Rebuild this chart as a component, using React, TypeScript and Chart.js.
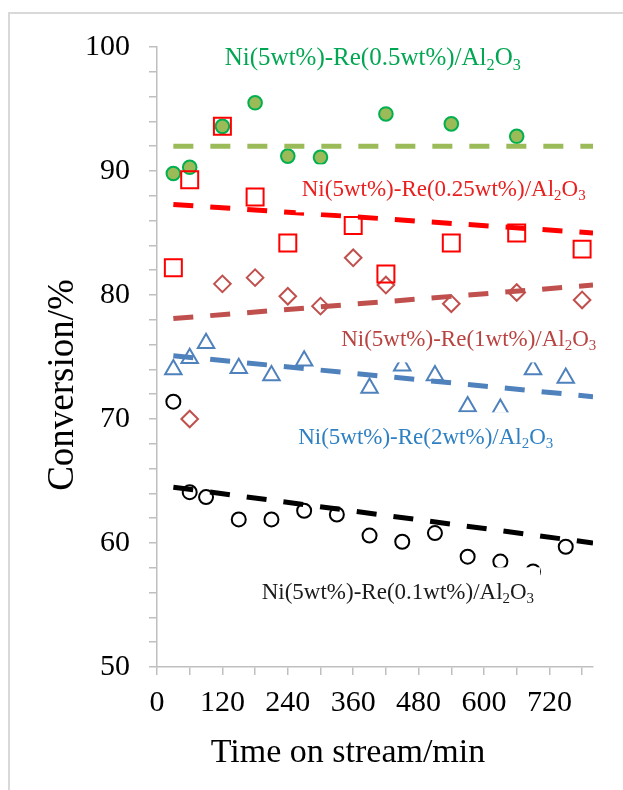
import React, { useEffect, useRef } from 'react';
import { Chart, registerables } from 'chart.js';

Chart.register(...registerables);

const FONT = '"Liberation Serif", "Times New Roman", serif';

// Axis tick labels
const xTickLabels = [0, 120, 240, 360, 480, 600, 720];
const yTickLabels = [50, 60, 70, 80, 90, 100];

// Series names
const seriesNames = [
  'Ni(5wt%)-Re(0.5wt%)/Al2O3',
  'Ni(5wt%)-Re(0.25wt%)/Al2O3',
  'Ni(5wt%)-Re(1wt%)/Al2O3',
  'Ni(5wt%)-Re(2wt%)/Al2O3',
  'Ni(5wt%)-Re(0.1wt%)/Al2O3',
];

// Ni(5wt%)-Re(0.5wt%)/Al2O3
const t05 = [30, 60, 120, 180, 240, 300, 420, 540, 660];
const v05 = [89.8, 90.3, 93.6, 95.5, 91.2, 91.1, 94.6, 93.8, 92.8];

// Ni(5wt%)-Re(0.25wt%)/Al2O3
const t025 = [30, 60, 120, 180, 240, 360, 420, 540, 660, 780];
const v025 = [82.2, 89.3, 93.6, 87.9, 84.2, 85.6, 81.7, 84.2, 85.0, 83.7];

// Ni(5wt%)-Re(1wt%)/Al2O3
const t1 = [60, 120, 180, 240, 300, 360, 420, 540, 660, 780];
const v1 = [70.0, 80.9, 81.4, 79.9, 79.1, 83.0, 80.8, 79.3, 80.2, 79.6];

// Ni(5wt%)-Re(2wt%)/Al2O3
const t2 = [30, 60, 90, 150, 210, 270, 390, 450, 510, 570, 630, 690, 750];
const v2 = [74.0, 74.9, 76.1, 74.1, 73.5, 74.7, 72.5, 74.3, 73.5, 71.0, 70.8, 74.0, 73.3];

// Ni(5wt%)-Re(0.1wt%)/Al2O3
const t01 = [30, 60, 90, 150, 210, 270, 330, 390, 450, 510, 570, 630, 690, 750];
const v01 = [71.4, 64.1, 63.7, 61.9, 61.9, 62.6, 62.3, 60.6, 60.1, 60.8, 58.9, 58.5, 57.7, 59.7];

// Linear trend lines (start / end)
const trendT = [30, 800];
const trend05 = [92.0, 92.0];
const trend025 = [87.3, 85.0];
const trend1 = [78.1, 80.8];
const trend2 = [75.1, 71.8];
const trend01 = [64.5, 60.0];

// Series label anchors (data coordinates: time, conversion)
const labelT = [396, 526, 572, 493, 442];
const labelV = [99.2, 88.6, 76.5, 68.6, 56.1];
const labelSize = [25, 23, 23, 23, 23];
const labelColor = ['#00A651', '#E8201F', '#B84340', '#2F80C3', '#1a1a1a'];

const pts = (t: number[], v: number[]) => t.map((x, i) => ({ x, y: v[i] }));

function drawRich(ctx: CanvasRenderingContext2D, cx: number, cy: number, text: string, size: number, color: string) {
  const idx = text.indexOf('Al2O3');
  const segs: [string, boolean][] = [
    [text.slice(0, idx) + 'Al', false],
    ['2', true],
    ['O', false],
    ['3', true],
  ];
  const subSize = size * 0.65;
  let total = 0;
  const widths = segs.map(([s, sub]) => {
    ctx.font = `${sub ? subSize : size}px ${FONT}`;
    const w = ctx.measureText(s).width;
    total += w;
    return w;
  });
  const boxH = 48;
  ctx.fillStyle = '#ffffff';
  ctx.fillRect(cx - total / 2 - 6, cy - boxH / 2, total + 12, boxH);
  let x = cx - total / 2;
  ctx.fillStyle = color;
  ctx.textAlign = 'left';
  ctx.textBaseline = 'alphabetic';
  const base = cy + size * 0.33;
  segs.forEach(([s, sub], i) => {
    ctx.font = `${sub ? subSize : size}px ${FONT}`;
    ctx.fillText(s, x, sub ? base + size * 0.18 : base);
    x += widths[i];
  });
}

const labelsPlugin = {
  id: 'seriesLabels',
  afterDatasetsDraw(chart: any) {
    const { ctx, scales } = chart;
    ctx.save();
    seriesNames.forEach((name, i) => {
      const cx = scales.x.getPixelForValue(labelT[i]);
      const cy = scales.y.getPixelForValue(labelV[i]);
      drawRich(ctx, cx, cy, name, labelSize[i], labelColor[i]);
    });
    ctx.restore();
  },
  afterDraw(chart: any) {
    const { ctx } = chart;
    ctx.save();
    ctx.fillStyle = '#000';
    ctx.font = `34px ${FONT}`;
    ctx.textAlign = 'center';
    ctx.textBaseline = 'alphabetic';
    ctx.fillText('Time on stream/min', 348, 762);
    ctx.translate(73, 385);
    ctx.rotate(-Math.PI / 2);
    ctx.font = `37px ${FONT}`;
    ctx.fillText('Conversion/%', 0, 0);
    ctx.restore();
  },
};

export default function App() {
  const ref = useRef<HTMLCanvasElement>(null);
  useEffect(() => {
    if (!ref.current) return;
    const trend = (v: number[], color: string) => ({
      type: 'line' as const,
      data: pts(trendT, v),
      borderColor: color,
      borderWidth: 5,
      borderDash: [20, 17],
      pointRadius: 0,
      fill: false,
      order: 0,
      clip: 0,
    });
    const marker = (t: number[], v: number[], style: string, r: number, border: string, bg: string, order: number) => ({
      type: 'scatter' as const,
      data: pts(t, v),
      pointStyle: style,
      pointRadius: r,
      pointBorderColor: border,
      pointBackgroundColor: bg,
      pointBorderWidth: 2,
      showLine: false,
      order,
    });
    const chart = new Chart(ref.current, {
      type: 'scatter',
      data: {
        datasets: [
          trend(trend05, '#9BBB59'),
          trend(trend025, '#FF0000'),
          trend(trend1, '#C0504D'),
          trend(trend2, '#4F81BD'),
          trend(trend01, '#000000'),
          marker(t025, v025, 'rect', 12, '#FF0000', 'rgba(255,255,255,0)', 1),
          marker(t05, v05, 'circle', 6.8, '#00B050', '#9BBB59', 2),
          marker(t1, v1, 'rectRot', 8.3, '#C0504D', 'rgba(255,255,255,0)', 3),
          marker(t2, v2, 'triangle', 9.5, '#4F81BD', 'rgba(255,255,255,0)', 3),
          marker(t01, v01, 'circle', 7, '#000000', 'rgba(255,255,255,0)', 3),
        ] as any,
      },
      options: {
        animation: false,
        responsive: false,
        events: [],
        layout: { padding: { left: 0, top: 47, right: 30, bottom: 0 } },
        plugins: { legend: { display: false }, tooltip: { enabled: false } },
        scales: {
          x: {
            type: 'linear',
            min: 0,
            max: 800,
            afterFit: (s: any) => { s.height = 123; },
            ticks: {
              stepSize: 60,
              autoSkip: false,
              includeBounds: false,
              maxRotation: 0,
              padding: 10,
              color: '#000',
              font: { family: FONT, size: 30 },
              callback: (v: any) => (xTickLabels.includes(Number(v)) ? String(v) : ''),
            },
            grid: { drawOnChartArea: false, tickLength: 8, color: '#BFBFBF', lineWidth: 1.5 },
            border: { color: '#BFBFBF', width: 1.5 },
          },
          y: {
            type: 'linear',
            min: 50,
            max: 100,
            afterFit: (s: any) => { s.width = 157; },
            ticks: {
              stepSize: 2,
              autoSkip: false,
              padding: 19,
              color: '#000',
              font: { family: FONT, size: 30 },
              callback: (v: any) => (yTickLabels.includes(Number(v)) ? String(v) : ''),
            },
            grid: { drawOnChartArea: false, tickLength: 8, color: '#BFBFBF', lineWidth: 1.5 },
            border: { color: '#BFBFBF', width: 1.5 },
          },
        },
      },
      plugins: [labelsPlugin],
    });
    return () => chart.destroy();
  }, []);
  return (
    <div style={{ position: 'fixed', left: 0, top: 0, width: 623, height: 790, overflow: 'hidden', background: '#fff' }}>
      <div style={{ position: 'absolute', left: 8, top: 12, width: 800, height: 900, border: '2px solid #D9D9D9' }} />
      <canvas ref={ref} width={623} height={790} style={{ position: 'absolute', left: 0, top: 0, display: 'block' }} />
    </div>
  );
}
